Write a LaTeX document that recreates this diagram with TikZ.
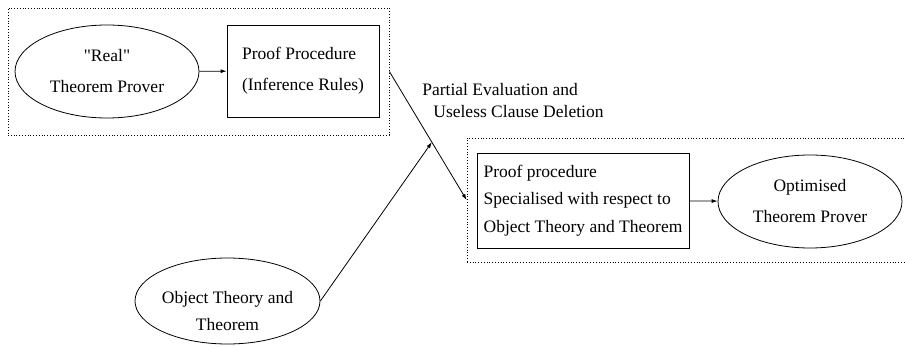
\documentclass[tikz,border=0pt]{standalone}
\usepackage{fontspec}
\setmainfont{Liberation Serif}
\newfontfamily\plainserif{Liberation Serif}
\usetikzlibrary{shapes.geometric,arrows.meta,calc}

\begin{document}
\begin{tikzpicture}[x=1pt,y=-1pt,line width=0.8pt]
\tikzstyle{every node}+=[inner sep=0pt,font=\fontsize{17.5}{31}\selectfont]
\tikzstyle{oval}=[draw,ellipse,minimum width=184pt,minimum height=93pt,align=center]
\tikzstyle{box}=[draw,rectangle,align=left]
\tikzstyle{frame}=[draw,dotted]
\tikzstyle{link}=[-{Latex[length=6pt,width=4pt]}]
\useasboundingbox (0,0) rectangle (905,347);
\clip (0,0) rectangle (905,347);
\node [frame,minimum width=381pt,minimum height=127pt] (front) at (198.5,71.5) {};
\node [oval] (real) at (107,71.5) {{\plainserif "Real"}\\Theorem Prover};
\node [box,minimum width=152pt,minimum height=92pt] (proc) at (303,71) {Proof Procedure\\(Inference Rules)};
\draw [link] (real) -- (proc);
\node [frame,minimum width=445pt,minimum height=124pt] (back) at (689.5,200) {};
\node [box,minimum width=212pt,minimum height=95pt,font=\fontsize{17.5}{27.5}\selectfont] (spec) at (583,200.5) {Proof procedure\\Specialised with respect to\\Object Theory and Theorem};
\node [oval] (opt) at (810,201.5) {Optimised\\Theorem Prover};
\draw [link] (spec) -- (opt);
\node [oval,minimum width=185pt,minimum height=86pt] (obj) at (227.5,301) {};
\node [align=center,font=\fontsize{17.5}{27}\selectfont] (objtext) at (227.5,311) {Object Theory and\\Theorem};
\draw [link] (front.east) -- (back.west);
\coordinate (join) at ($(front.east)!0.55!(back.west)$);
\draw [link] (obj.east) -- (join);
\node [anchor=west,align=left,font=\fontsize{17.5}{22}\selectfont] (note) at (422,101) {Partial Evaluation and\\\hspace{11pt}Useless Clause Deletion};
\end{tikzpicture}
\end{document}
